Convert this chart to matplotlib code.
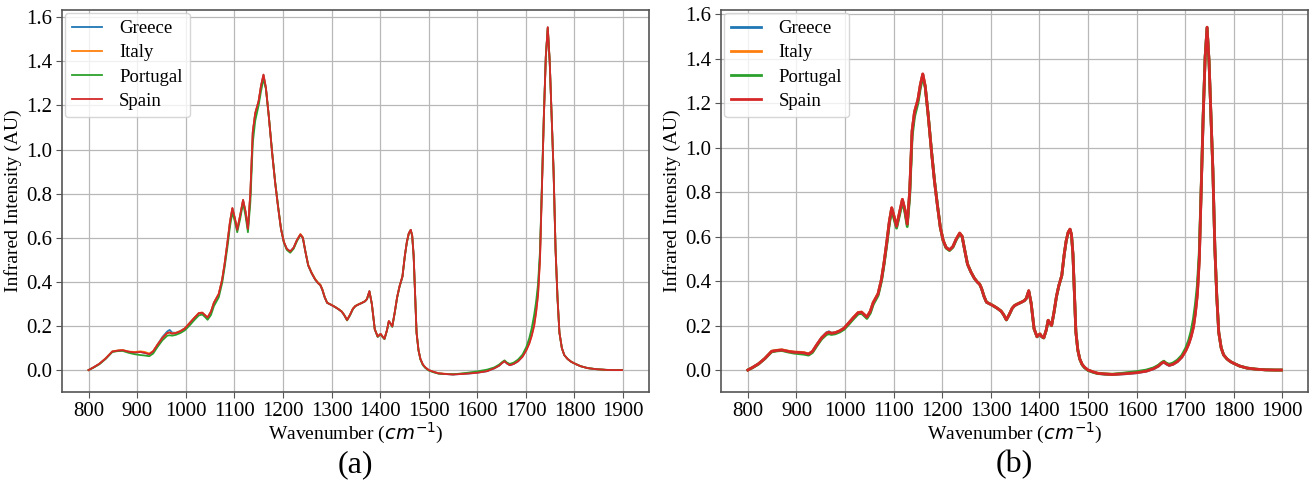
import matplotlib
matplotlib.use('Agg')
import matplotlib.pyplot as plt

# Wavenumber grid (cm^-1), shared by all spectra
wavenumber = [
    800, 810, 822, 835, 849, 860, 870, 883, 895, 907,
    916, 925, 933, 942, 952, 962, 967, 972, 980, 989,
    998, 1007, 1017, 1027, 1034, 1040, 1045, 1052, 1058, 1068,
    1075, 1080, 1086, 1091, 1096, 1101, 1106, 1112, 1118, 1123,
    1128, 1133, 1138, 1143, 1150, 1155, 1160, 1165, 1171, 1178,
    1184, 1190, 1196, 1202, 1208, 1215, 1222, 1229, 1236, 1241,
    1246, 1252, 1259, 1266, 1272, 1277, 1281, 1286, 1291, 1300,
    1308, 1315, 1321, 1326, 1332, 1338, 1344, 1349, 1356, 1363,
    1369, 1373, 1378, 1383, 1389, 1395, 1401, 1405, 1409, 1414,
    1418, 1422, 1425, 1430, 1435, 1440, 1446, 1451, 1455, 1459,
    1463, 1466, 1469, 1472, 1475, 1479, 1483, 1488, 1493, 1500,
    1510, 1520, 1535, 1550, 1565, 1580, 1600, 1620, 1635, 1645,
    1651, 1656, 1661, 1667, 1675, 1684, 1693, 1701, 1707, 1712,
    1717, 1721, 1725, 1729, 1733, 1737, 1741, 1745, 1749, 1753,
    1757, 1761, 1765, 1769, 1774, 1779, 1786, 1793, 1800, 1812,
    1827, 1845, 1865, 1885, 1898,
]

countries = ['Greece', 'Italy', 'Portugal', 'Spain']

# ---- panel (a): raw mean spectra ----
greece_a = [
    0.000, 0.012, 0.028, 0.052, 0.084, 0.088, 0.090, 0.083, 0.080, 0.082,
    0.078, 0.072, 0.085, 0.116, 0.150, 0.175, 0.182, 0.170, 0.169, 0.177,
    0.189, 0.210, 0.235, 0.258, 0.260, 0.248, 0.238, 0.265, 0.305, 0.345,
    0.410, 0.480, 0.580, 0.670, 0.733, 0.688, 0.636, 0.700, 0.770, 0.718,
    0.640, 0.800, 1.078, 1.163, 1.218, 1.288, 1.338, 1.280, 1.150, 0.980,
    0.850, 0.740, 0.640, 0.580, 0.550, 0.538, 0.555, 0.590, 0.615, 0.600,
    0.540, 0.475, 0.440, 0.412, 0.395, 0.385, 0.365, 0.330, 0.305, 0.295,
    0.285, 0.275, 0.265, 0.250, 0.227, 0.250, 0.278, 0.290, 0.298, 0.305,
    0.312, 0.322, 0.358, 0.300, 0.185, 0.152, 0.164, 0.152, 0.142, 0.180,
    0.222, 0.210, 0.198, 0.260, 0.330, 0.380, 0.425, 0.520, 0.580, 0.620,
    0.636, 0.610, 0.520, 0.350, 0.170, 0.090, 0.050, 0.025, 0.012, 0.000,
    -0.008, -0.015, -0.018, -0.020, -0.018, -0.016, -0.012, -0.005, 0.008, 0.020,
    0.032, 0.040, 0.030, 0.022, 0.028, 0.040, 0.062, 0.095, 0.128, 0.168,
    0.225, 0.285, 0.365, 0.520, 0.830, 1.150, 1.420, 1.553, 1.400, 1.150,
    0.900, 0.550, 0.330, 0.170, 0.100, 0.068, 0.050, 0.038, 0.030, 0.018,
    0.009, 0.004, 0.001, 0.000, 0.000,
]
italy_a = [
    0.000, 0.012, 0.028, 0.053, 0.085, 0.089, 0.091, 0.084, 0.082, 0.085,
    0.082, 0.075, 0.086, 0.116, 0.146, 0.168, 0.171, 0.166, 0.169, 0.177,
    0.189, 0.211, 0.236, 0.259, 0.261, 0.249, 0.239, 0.266, 0.306, 0.346,
    0.412, 0.482, 0.582, 0.672, 0.733, 0.688, 0.638, 0.702, 0.770, 0.718,
    0.642, 0.802, 1.078, 1.163, 1.218, 1.288, 1.336, 1.278, 1.150, 0.982,
    0.852, 0.742, 0.642, 0.582, 0.548, 0.535, 0.553, 0.590, 0.617, 0.602,
    0.542, 0.478, 0.443, 0.415, 0.398, 0.388, 0.368, 0.332, 0.306, 0.296,
    0.286, 0.276, 0.266, 0.251, 0.228, 0.251, 0.279, 0.291, 0.299, 0.306,
    0.313, 0.323, 0.357, 0.300, 0.186, 0.153, 0.164, 0.152, 0.143, 0.180,
    0.222, 0.210, 0.198, 0.260, 0.330, 0.380, 0.425, 0.520, 0.580, 0.620,
    0.635, 0.610, 0.520, 0.350, 0.170, 0.090, 0.050, 0.025, 0.012, 0.000,
    -0.008, -0.014, -0.017, -0.019, -0.017, -0.014, -0.010, -0.003, 0.010, 0.022,
    0.034, 0.042, 0.032, 0.024, 0.030, 0.042, 0.062, 0.092, 0.122, 0.158,
    0.205, 0.265, 0.345, 0.505, 0.822, 1.150, 1.420, 1.552, 1.400, 1.150,
    0.900, 0.550, 0.330, 0.170, 0.100, 0.068, 0.050, 0.038, 0.030, 0.018,
    0.009, 0.004, 0.001, 0.000, 0.000,
]
portugal_a = [
    0.000, 0.011, 0.026, 0.050, 0.082, 0.086, 0.087, 0.078, 0.072, 0.068,
    0.066, 0.063, 0.075, 0.105, 0.135, 0.156, 0.158, 0.156, 0.160, 0.168,
    0.180, 0.200, 0.225, 0.248, 0.252, 0.240, 0.228, 0.250, 0.290, 0.330,
    0.395, 0.465, 0.560, 0.650, 0.715, 0.675, 0.625, 0.685, 0.758, 0.700,
    0.625, 0.760, 1.030, 1.130, 1.200, 1.265, 1.320, 1.275, 1.150, 0.985,
    0.855, 0.745, 0.642, 0.578, 0.545, 0.532, 0.550, 0.585, 0.612, 0.600,
    0.540, 0.475, 0.440, 0.412, 0.395, 0.385, 0.365, 0.330, 0.305, 0.295,
    0.285, 0.275, 0.265, 0.250, 0.225, 0.248, 0.276, 0.290, 0.298, 0.305,
    0.312, 0.322, 0.356, 0.300, 0.185, 0.150, 0.162, 0.150, 0.140, 0.178,
    0.220, 0.208, 0.196, 0.258, 0.328, 0.378, 0.423, 0.518, 0.578, 0.618,
    0.634, 0.608, 0.518, 0.350, 0.170, 0.090, 0.048, 0.022, 0.010, -0.002,
    -0.010, -0.016, -0.018, -0.019, -0.016, -0.012, -0.006, 0.002, 0.012, 0.025,
    0.036, 0.044, 0.034, 0.028, 0.034, 0.048, 0.070, 0.105, 0.145, 0.190,
    0.250, 0.310, 0.390, 0.540, 0.840, 1.160, 1.425, 1.550, 1.398, 1.150,
    0.900, 0.550, 0.330, 0.170, 0.100, 0.068, 0.050, 0.038, 0.030, 0.018,
    0.009, 0.004, 0.001, 0.000, 0.000,
]
spain_a = [
    0.000, 0.012, 0.028, 0.052, 0.084, 0.088, 0.090, 0.083, 0.080, 0.082,
    0.078, 0.072, 0.085, 0.115, 0.145, 0.168, 0.170, 0.165, 0.168, 0.176,
    0.188, 0.210, 0.235, 0.258, 0.260, 0.248, 0.238, 0.265, 0.305, 0.345,
    0.410, 0.480, 0.580, 0.670, 0.735, 0.690, 0.636, 0.700, 0.772, 0.720,
    0.640, 0.800, 1.080, 1.165, 1.220, 1.290, 1.340, 1.280, 1.150, 0.980,
    0.850, 0.740, 0.640, 0.580, 0.550, 0.538, 0.555, 0.590, 0.615, 0.600,
    0.540, 0.475, 0.440, 0.412, 0.395, 0.385, 0.365, 0.330, 0.305, 0.295,
    0.285, 0.275, 0.265, 0.250, 0.227, 0.250, 0.278, 0.290, 0.298, 0.305,
    0.312, 0.322, 0.358, 0.300, 0.185, 0.152, 0.164, 0.152, 0.142, 0.180,
    0.222, 0.210, 0.198, 0.260, 0.330, 0.380, 0.425, 0.520, 0.580, 0.620,
    0.636, 0.610, 0.520, 0.350, 0.170, 0.090, 0.050, 0.025, 0.012, 0.000,
    -0.008, -0.015, -0.018, -0.020, -0.018, -0.016, -0.012, -0.005, 0.008, 0.020,
    0.032, 0.040, 0.030, 0.022, 0.028, 0.040, 0.060, 0.090, 0.120, 0.155,
    0.200, 0.260, 0.340, 0.500, 0.820, 1.150, 1.420, 1.555, 1.400, 1.150,
    0.900, 0.550, 0.330, 0.170, 0.100, 0.068, 0.050, 0.038, 0.030, 0.018,
    0.009, 0.004, 0.001, 0.000, 0.000,
]

# ---- panel (b): processed spectra ----
greece_b = [
    0.000, 0.012, 0.028, 0.052, 0.084, 0.088, 0.090, 0.084, 0.080, 0.078,
    0.076, 0.071, 0.083, 0.114, 0.146, 0.168, 0.172, 0.166, 0.168, 0.176,
    0.188, 0.210, 0.235, 0.258, 0.260, 0.248, 0.238, 0.264, 0.303, 0.343,
    0.408, 0.478, 0.576, 0.665, 0.728, 0.688, 0.645, 0.705, 0.766, 0.722,
    0.655, 0.800, 1.075, 1.160, 1.215, 1.282, 1.330, 1.275, 1.148, 0.980,
    0.850, 0.742, 0.642, 0.582, 0.552, 0.541, 0.556, 0.590, 0.615, 0.600,
    0.542, 0.476, 0.441, 0.413, 0.396, 0.386, 0.366, 0.331, 0.305, 0.295,
    0.285, 0.275, 0.265, 0.250, 0.226, 0.250, 0.278, 0.290, 0.298, 0.305,
    0.312, 0.322, 0.356, 0.300, 0.186, 0.150, 0.162, 0.150, 0.145, 0.180,
    0.224, 0.210, 0.200, 0.260, 0.330, 0.380, 0.425, 0.520, 0.580, 0.618,
    0.633, 0.608, 0.520, 0.350, 0.172, 0.090, 0.050, 0.025, 0.012, 0.000,
    -0.008, -0.015, -0.018, -0.020, -0.018, -0.016, -0.012, -0.005, 0.006, 0.018,
    0.030, 0.036, 0.028, 0.021, 0.026, 0.038, 0.058, 0.088, 0.118, 0.152,
    0.198, 0.262, 0.345, 0.500, 0.815, 1.140, 1.405, 1.540, 1.390, 1.145,
    0.895, 0.550, 0.330, 0.170, 0.100, 0.068, 0.050, 0.038, 0.030, 0.018,
    0.009, 0.004, 0.001, 0.000, 0.000,
]
italy_b = [
    0.000, 0.012, 0.028, 0.052, 0.085, 0.089, 0.091, 0.085, 0.081, 0.080,
    0.078, 0.072, 0.084, 0.114, 0.145, 0.166, 0.170, 0.165, 0.168, 0.176,
    0.188, 0.210, 0.236, 0.259, 0.261, 0.249, 0.239, 0.265, 0.304, 0.344,
    0.409, 0.479, 0.577, 0.666, 0.729, 0.689, 0.646, 0.706, 0.767, 0.723,
    0.656, 0.801, 1.076, 1.161, 1.216, 1.283, 1.330, 1.276, 1.149, 0.981,
    0.851, 0.743, 0.643, 0.583, 0.551, 0.540, 0.555, 0.590, 0.616, 0.601,
    0.543, 0.477, 0.442, 0.414, 0.397, 0.387, 0.367, 0.332, 0.306, 0.296,
    0.286, 0.276, 0.266, 0.251, 0.227, 0.251, 0.279, 0.291, 0.299, 0.306,
    0.313, 0.323, 0.356, 0.300, 0.186, 0.151, 0.163, 0.151, 0.145, 0.180,
    0.224, 0.210, 0.200, 0.260, 0.330, 0.380, 0.425, 0.520, 0.580, 0.618,
    0.633, 0.608, 0.520, 0.350, 0.172, 0.090, 0.050, 0.025, 0.012, 0.000,
    -0.008, -0.014, -0.017, -0.019, -0.017, -0.014, -0.010, -0.003, 0.008, 0.020,
    0.032, 0.038, 0.030, 0.023, 0.028, 0.040, 0.060, 0.088, 0.118, 0.152,
    0.198, 0.262, 0.345, 0.500, 0.815, 1.140, 1.405, 1.540, 1.390, 1.145,
    0.895, 0.550, 0.330, 0.170, 0.100, 0.068, 0.050, 0.038, 0.030, 0.018,
    0.009, 0.004, 0.001, 0.000, 0.000,
]
portugal_b = [
    0.000, 0.011, 0.027, 0.051, 0.082, 0.086, 0.088, 0.081, 0.076, 0.073,
    0.071, 0.067, 0.079, 0.109, 0.140, 0.160, 0.163, 0.160, 0.163, 0.171,
    0.183, 0.204, 0.229, 0.252, 0.255, 0.243, 0.232, 0.256, 0.295, 0.335,
    0.400, 0.470, 0.566, 0.655, 0.718, 0.678, 0.638, 0.695, 0.756, 0.712,
    0.645, 0.780, 1.050, 1.140, 1.200, 1.268, 1.318, 1.272, 1.150, 0.985,
    0.855, 0.745, 0.643, 0.580, 0.548, 0.537, 0.552, 0.586, 0.612, 0.600,
    0.542, 0.476, 0.441, 0.413, 0.396, 0.386, 0.366, 0.331, 0.305, 0.295,
    0.285, 0.275, 0.265, 0.250, 0.225, 0.249, 0.277, 0.290, 0.298, 0.305,
    0.312, 0.322, 0.355, 0.300, 0.185, 0.149, 0.161, 0.149, 0.144, 0.179,
    0.223, 0.209, 0.199, 0.259, 0.329, 0.379, 0.424, 0.519, 0.579, 0.617,
    0.632, 0.607, 0.519, 0.350, 0.172, 0.090, 0.049, 0.023, 0.010, -0.002,
    -0.010, -0.016, -0.018, -0.019, -0.016, -0.012, -0.007, 0.000, 0.010, 0.022,
    0.033, 0.040, 0.031, 0.026, 0.032, 0.045, 0.066, 0.098, 0.132, 0.172,
    0.230, 0.295, 0.380, 0.530, 0.830, 1.150, 1.410, 1.538, 1.388, 1.145,
    0.895, 0.550, 0.330, 0.170, 0.100, 0.068, 0.050, 0.038, 0.030, 0.018,
    0.009, 0.004, 0.001, 0.000, 0.000,
]
spain_b = [
    0.000, 0.012, 0.028, 0.052, 0.084, 0.088, 0.090, 0.084, 0.080, 0.079,
    0.077, 0.072, 0.084, 0.114, 0.145, 0.166, 0.170, 0.165, 0.168, 0.176,
    0.188, 0.210, 0.235, 0.258, 0.260, 0.248, 0.238, 0.264, 0.303, 0.343,
    0.408, 0.478, 0.576, 0.665, 0.730, 0.690, 0.646, 0.706, 0.768, 0.724,
    0.656, 0.800, 1.076, 1.161, 1.216, 1.283, 1.332, 1.276, 1.149, 0.980,
    0.850, 0.742, 0.642, 0.582, 0.551, 0.540, 0.555, 0.590, 0.616, 0.601,
    0.542, 0.476, 0.441, 0.413, 0.396, 0.386, 0.366, 0.331, 0.305, 0.295,
    0.285, 0.275, 0.265, 0.250, 0.226, 0.250, 0.278, 0.290, 0.298, 0.305,
    0.312, 0.322, 0.357, 0.300, 0.186, 0.150, 0.162, 0.150, 0.145, 0.180,
    0.224, 0.210, 0.200, 0.260, 0.330, 0.380, 0.425, 0.520, 0.580, 0.619,
    0.634, 0.608, 0.520, 0.350, 0.172, 0.090, 0.050, 0.025, 0.012, 0.000,
    -0.008, -0.015, -0.018, -0.020, -0.018, -0.016, -0.012, -0.005, 0.006, 0.018,
    0.030, 0.036, 0.028, 0.021, 0.026, 0.038, 0.058, 0.086, 0.115, 0.148,
    0.192, 0.255, 0.338, 0.495, 0.812, 1.140, 1.405, 1.542, 1.390, 1.145,
    0.895, 0.550, 0.330, 0.170, 0.100, 0.068, 0.050, 0.038, 0.030, 0.018,
    0.009, 0.004, 0.001, 0.000, 0.000,
]

series_a = [greece_a, italy_a, portugal_a, spain_a]
series_b = [greece_b, italy_b, portugal_b, spain_b]

plt.rcParams['font.family'] = 'Liberation Serif'
plt.rcParams['mathtext.fontset'] = 'dejavusans'

fig = plt.figure(figsize=(13.16, 4.88), dpi=100)
ax1 = fig.add_axes([0.047, 0.197, 0.446, 0.783])
ax2 = fig.add_axes([0.548, 0.197, 0.446, 0.783])

for ax, series, lw, tag in [(ax1, series_a, 1.3, '(a)'), (ax2, series_b, 2.0, '(b)')]:
    for name, vals in zip(countries, series):
        ax.plot(wavenumber, vals, label=name, linewidth=lw)
    ax.set_xticks(range(800, 2000, 100))
    ax.set_yticks([0.0, 0.2, 0.4, 0.6, 0.8, 1.0, 1.2, 1.4, 1.6])
    ax.grid(True, color='#b8b8b8', linewidth=0.9)
    ax.set_axisbelow(True)
    for sp in ax.spines.values():
        sp.set_color('#555555')
        sp.set_linewidth(1.2)
    ax.tick_params(labelsize=15, length=4, color='#555555', pad=3)
    ax.set_xlabel('Wavenumber ($cm^{-1}$)', fontsize=14, labelpad=0)
    ax.set_ylabel('Infrared Intensity (AU)', fontsize=14, labelpad=3)
    ax.legend(loc='upper left', fontsize=13.5, borderaxespad=0.15,
              handlelength=1.6, handletextpad=0.9, labelspacing=0.38)
    ax.text(0.5, -0.19, tag, transform=ax.transAxes, ha='center', va='center',
            fontsize=23)

fig.savefig('out.png', dpi=100)
